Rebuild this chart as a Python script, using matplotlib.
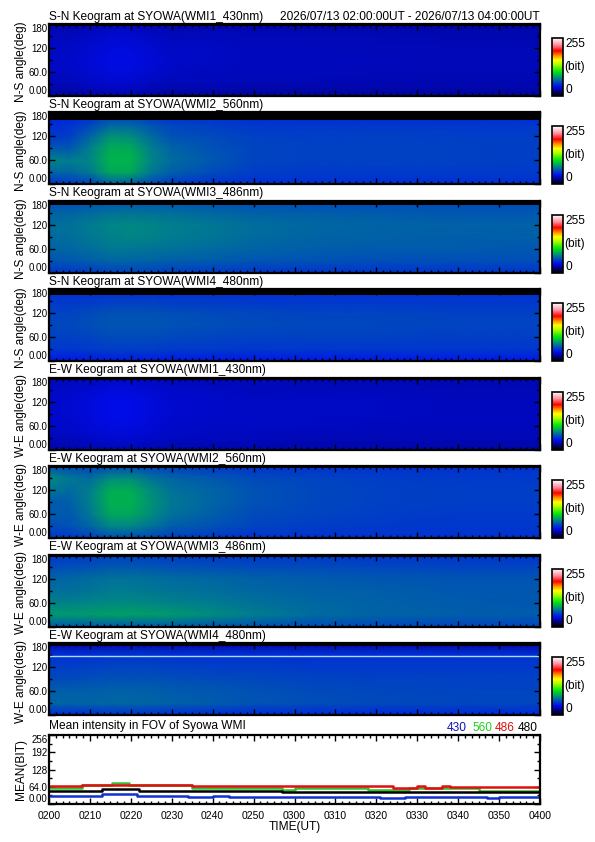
import numpy as np
import matplotlib
matplotlib.use('Agg')
from matplotlib import pyplot as plt
from matplotlib.colors import LinearSegmentedColormap, Normalize
from matplotlib.ticker import MultipleLocator, AutoMinorLocator
import matplotlib.cm as cm

plt.rcParams['font.family'] = ['Liberation Sans', 'DejaVu Sans']

# ---- keogram grid (minutes after 02:00 UT, angle in deg) ----
keo_t = [0, 5, 10, 15, 20, 25, 30, 40, 50, 65, 80, 100, 120]
keo_a = [0, 30, 60, 90, 120, 150, 180]

keo_sn_430 = [[27,27,28,29,29,28,27,27,27,27,27,27,27],
              [31,31,33,34,34,32,31,31,30,30,30,30,30],
              [33,33,35,37,37,35,33,32,32,32,31,31,31],
              [33,34,36,38,38,36,34,33,32,32,32,31,31],
              [33,33,35,37,37,35,33,33,32,32,31,31,31],
              [32,32,33,35,35,33,32,32,31,31,31,30,30],
              [29,29,30,31,31,30,29,29,29,28,28,28,28]]
keo_sn_560 = [[52,54,56,64,64,58,54,52,51,51,51,51,51],
              [68,68,74,88,88,74,66,60,56,55,55,55,55],
              [78,76,78,92,92,78,70,64,58,57,57,57,56],
              [64,64,76,90,89,76,68,62,58,57,57,57,56],
              [54,56,68,82,80,70,62,60,57,56,57,56,56],
              [50,52,58,68,68,62,58,56,54,54,54,54,54],
              [46,46,48,52,52,50,48,48,46,46,46,46,46]]
keo_sn_486 = [[54,54,55,57,57,57,56,55,54,53,53,53,53],
              [63,64,66,68,68,67,66,65,63,62,61,61,61],
              [68,69,71,74,74,73,72,70,68,66,65,65,64],
              [70,71,74,77,78,77,75,73,70,68,67,66,66],
              [71,72,75,78,79,78,76,74,71,69,68,67,67],
              [67,68,70,72,73,72,71,69,67,66,65,64,64],
              [60,60,61,62,62,62,62,61,60,59,59,59,59]]
keo_sn_480 = [[44,44,44,45,45,45,44,44,44,44,44,44,44],
              [54,54,55,56,56,56,55,55,54,54,54,54,54],
              [57,57,58,60,60,60,59,58,57,57,57,56,56],
              [59,59,61,63,63,63,62,61,60,59,59,58,58],
              [58,58,60,62,62,62,61,60,59,58,58,57,57],
              [54,54,55,56,56,56,55,55,54,54,54,54,54],
              [52,52,52,52,52,52,52,52,52,52,52,52,52]]
keo_ew_430 = [[29,29,30,31,31,30,29,29,29,29,29,28,28],
              [32,32,34,35,35,34,33,32,32,31,31,31,31],
              [34,34,36,38,38,36,34,33,33,33,32,32,32],
              [34,35,37,39,39,37,35,34,33,33,33,32,32],
              [34,35,37,39,39,37,35,34,33,33,33,32,32],
              [33,34,35,37,37,35,34,33,32,32,32,31,31],
              [31,31,32,33,33,32,31,31,31,30,30,30,30]]
keo_ew_560 = [[54,54,56,60,60,58,56,54,52,52,52,52,52],
              [60,62,68,78,78,72,66,62,58,56,55,54,54],
              [66,64,74,88,88,80,72,66,60,58,56,55,55],
              [64,66,76,91,91,82,74,68,62,59,57,56,56],
              [74,70,76,90,90,80,72,68,62,59,57,56,56],
              [80,74,70,80,80,72,68,64,60,58,56,55,55],
              [62,60,58,60,60,58,56,54,53,52,52,52,52]]
keo_ew_486 = [[64,64,64,64,64,64,64,63,62,60,59,58,58],
              [84,84,85,86,86,85,84,80,76,70,68,66,65],
              [77,77,78,79,79,78,77,75,72,69,67,65,64],
              [71,71,73,75,75,74,73,71,69,67,66,64,64],
              [68,69,70,72,72,71,70,69,67,65,64,63,63],
              [60,61,62,64,64,63,62,61,60,60,59,58,58],
              [54,54,55,56,56,55,55,54,54,54,53,53,53]]
keo_ew_480 = [[50,50,50,51,51,51,50,50,49,49,49,49,49],
              [68,68,68,69,69,68,67,65,63,61,60,59,59],
              [66,66,66,67,67,66,65,64,62,60,59,58,58],
              [60,60,61,62,62,62,61,60,59,58,57,57,57],
              [56,56,57,58,58,58,57,56,56,55,55,55,55],
              [52,52,52,53,53,53,52,52,52,52,52,52,52],
              [30,30,30,30,30,30,30,30,30,30,30,30,30]]

keograms = [keo_sn_430, keo_sn_560, keo_sn_486, keo_sn_480,
            keo_ew_430, keo_ew_560, keo_ew_486, keo_ew_480]
titles = ["S-N Keogram at SYOWA(WMI1_430nm)", "S-N Keogram at SYOWA(WMI2_560nm)",
          "S-N Keogram at SYOWA(WMI3_486nm)", "S-N Keogram at SYOWA(WMI4_480nm)",
          "E-W Keogram at SYOWA(WMI1_430nm)", "E-W Keogram at SYOWA(WMI2_560nm)",
          "E-W Keogram at SYOWA(WMI3_486nm)", "E-W Keogram at SYOWA(WMI4_480nm)"]
ylabels = ["N-S angle(deg)"]*4 + ["W-E angle(deg)"]*4
horizon_mask = [175, 160, 170, 166, 175, 176, 175, 172]   # angle above which no data
date_range = "2026/07/13 02:00:00UT - 2026/07/13 04:00:00UT"

# ---- mean intensity (step series, minutes after 02:00 UT) ----
t_430 = [0, 13, 21.5, 34, 40, 44, 81, 87, 107, 110, 120]
v_430 = [31, 36, 31, 26, 31, 27, 24, 27, 24, 27, 27]
t_560 = [0, 8, 15.5, 19.5, 35, 57, 60, 78, 88, 105, 120]
v_560 = [60, 70, 78, 70, 60, 53, 58, 52, 60, 50, 50]
t_486 = [0, 8, 35, 84, 90, 92, 96, 98, 120]
v_486 = [66, 70, 66, 61, 67, 61, 67, 63, 63]
t_480 = [0, 13, 22, 57, 120]
v_480 = [50, 54, 50, 46, 46]
time_labels = ["0200", "0210", "0220", "0230", "0240", "0250", "0300",
               "0310", "0320", "0330", "0340", "0350", "0400"]

# IDL-like rainbow + white table
cmap = LinearSegmentedColormap.from_list("idl_rainbow", [
    (0.00, (0, 0, 0)), (0.06, (0, 0, 0.35)), (0.16, (0, 0.05, 0.95)),
    (0.30, (0, 0.5, 0.55)), (0.42, (0, 0.9, 0.05)), (0.55, (0.7, 1, 0)),
    (0.62, (1, 1, 0)), (0.70, (1, 0.55, 0)), (0.78, (1, 0, 0)),
    (0.88, (1, 0.55, 0.6)), (1.00, (1, 1, 1))])
norm = Normalize(0, 255)

W, H = 595, 842
fig = plt.figure(figsize=(W/100, H/100), dpi=100)

def px_axes(x0, y0, x1, y1):
    return fig.add_axes([x0/W, 1-y1/H, (x1-x0)/W, (y1-y0)/H])

def style_axes(ax):
    for s in ax.spines.values():
        s.set_linewidth(1.6)
    ax.xaxis.set_major_locator(MultipleLocator(10))
    ax.xaxis.set_minor_locator(AutoMinorLocator(6))
    ax.yaxis.set_minor_locator(AutoMinorLocator(2))
    ax.tick_params(which='both', direction='in', top=True, right=True, width=1)
    ax.tick_params(which='major', length=4)
    ax.tick_params(which='minor', length=2)
    ax.tick_params(axis='y', pad=1)

def end_labels(labels):
    labels[0].set_va('bottom')
    labels[-1].set_va('top')
    for l in labels:
        l.set_fontsize(7)

left, right = 49, 540
for i in range(8):
    top = 24 + i*88.43
    ax = px_axes(left, top, right, top+72)
    ax.pcolormesh(keo_t, keo_a, np.array(keograms[i]), shading='gouraud', cmap=cmap, norm=norm)
    ax.axhspan(horizon_mask[i], 180, color='black', lw=0)
    if i == 7:
        ax.axhline(148, color='#a8dcff', lw=1)
    ax.set_xlim(0, 120)
    ax.set_ylim(0, 180)
    style_axes(ax)
    ax.tick_params(labelbottom=False)
    ax.set_yticks([0, 60, 120, 180])
    ax.set_yticklabels(["0.00", "60.0", "120", "180"])
    end_labels(ax.get_yticklabels())
    ax.text(0, 1+4.5/72, titles[i], transform=ax.transAxes, ha='left', va='baseline', fontsize=8.6)
    if i == 0:
        ax.text(1, 1+4.5/72, date_range, transform=ax.transAxes, ha='right', va='baseline', fontsize=8.6)
    fig.text(21/W, 1-(top+38)/H, ylabels[i], rotation=90, ha='center', va='center', fontsize=8.6)

    cax = px_axes(552, top+14, 563, top+72)
    cb = fig.colorbar(cm.ScalarMappable(norm=norm, cmap=cmap), cax=cax, ticks=[])
    cb.outline.set_linewidth(1.2)
    cax.text(1.25, 1, "255", transform=cax.transAxes, ha='left', va='top', fontsize=8.6)
    cax.text(1.1, 0.5, "(bit)", transform=cax.transAxes, ha='left', va='center', fontsize=8.6)
    cax.text(1.25, 0, "0", transform=cax.transAxes, ha='left', va='bottom', fontsize=8.6)

# ---- mean intensity panel ----
ax = px_axes(left, 735, right, 804)
ax.step(t_430, v_430, where='post', color='#1030d0', lw=1.8)
ax.step(t_560, v_560, where='post', color='#30c030', lw=1.8)
ax.step(t_486, v_486, where='post', color='#e01010', lw=1.8)
ax.step(t_480, v_480, where='post', color='black', lw=1.8)
ax.set_xlim(0, 120)
ax.set_ylim(0, 256)
style_axes(ax)
ax.set_yticks([0, 64, 128, 192, 256])
ax.set_yticklabels(["0.00", "64.0", "128", "192", "256"])
end_labels(ax.get_yticklabels())
ax.set_xticks(range(0, 121, 10))
ax.set_xticklabels(time_labels)
for l in ax.get_xticklabels():
    l.set_fontsize(7.5)
ax.tick_params(axis='x', pad=5)
ax.set_xlabel("TIME(UT)", fontsize=8.6, labelpad=0)
ax.text(0, 1+6/69, "Mean intensity in FOV of Syowa WMI", transform=ax.transAxes,
        ha='left', va='baseline', fontsize=8.6)
fig.text(21/W, 1-769/H, "MEAN(BIT)", rotation=90, ha='center', va='center', fontsize=8.6)
for txt, col, xr in [("430", '#1010c0', 467), ("560", '#20d020', 492),
                     ("486", '#e01010', 515), ("480", 'black', 538)]:
    fig.text(xr/W, 1-731/H, txt, color=col, ha='right', va='baseline', fontsize=8.6)

fig.savefig("out.png", dpi=100)
